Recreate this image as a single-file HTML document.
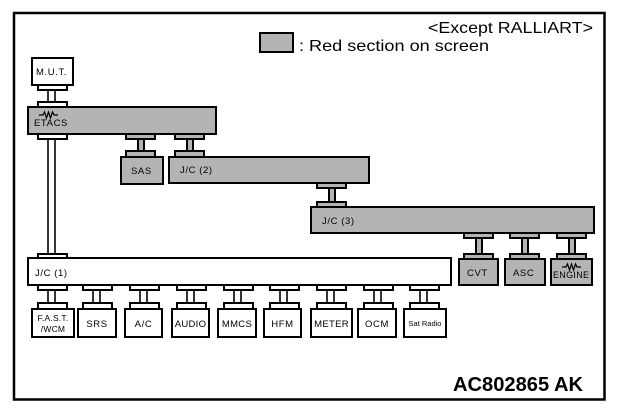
<!DOCTYPE html>
<html><head><meta charset="utf-8"><style>
html,body{margin:0;padding:0;background:#fff;}
svg{display:block;}
text{font-family:"Liberation Sans",sans-serif;fill:#000;}
</style></head><body>
<svg width="617" height="411" viewBox="0 0 617 411" xmlns="http://www.w3.org/2000/svg">
<rect x="14" y="13" width="590.5" height="386.5" fill="none" stroke="#000" stroke-width="2.5"/>
<text x="428" y="33" font-size="16" textLength="165" lengthAdjust="spacingAndGlyphs">&lt;Except RALLIART&gt;</text>
<rect x="260" y="33" width="33" height="19" fill="#b4b4b4" stroke="#000" stroke-width="2"/>
<text x="299" y="51" font-size="16" textLength="190" lengthAdjust="spacingAndGlyphs">: Red section on screen</text>
<text x="453" y="391" font-size="20" font-weight="bold" textLength="130" lengthAdjust="spacingAndGlyphs">AC802865 AK</text>

<g stroke="#000" stroke-width="2">
<rect x="32" y="58" width="41" height="27" fill="#fff"/>
<rect x="38" y="85" width="29" height="5" fill="#fff"/>
<line x1="48" y1="90" x2="48" y2="102" stroke-width="1.6"/>
<line x1="55" y1="90" x2="55" y2="102" stroke-width="1.6"/>
<rect x="38" y="102" width="29" height="5" fill="#fff"/>
<rect x="28" y="107" width="188" height="27" fill="#b4b4b4"/>
<rect x="38" y="134" width="29" height="5" fill="#fff"/>
<line x1="48" y1="139" x2="48" y2="254" stroke-width="1.6"/>
<line x1="55" y1="139" x2="55" y2="254" stroke-width="1.6"/>
<rect x="38" y="254" width="29" height="4" fill="#fff"/>
<rect x="126" y="134" width="29" height="5" fill="#b4b4b4"/>
<rect x="138" y="139" width="6" height="12" fill="#b4b4b4"/>
<rect x="126" y="151" width="29" height="6" fill="#b4b4b4"/>
<rect x="121" y="157" width="42" height="27" fill="#b4b4b4"/>
<rect x="175" y="134" width="29" height="5" fill="#b4b4b4"/>
<rect x="187" y="139" width="6" height="12" fill="#b4b4b4"/>
<rect x="175" y="151" width="29" height="6" fill="#b4b4b4"/>
<rect x="169" y="157" width="200" height="26" fill="#b4b4b4"/>
<rect x="317" y="183" width="29" height="5" fill="#b4b4b4"/>
<rect x="329" y="188" width="6" height="14" fill="#b4b4b4"/>
<rect x="317" y="202" width="29" height="5" fill="#b4b4b4"/>
<rect x="311" y="207" width="283" height="26" fill="#b4b4b4"/>
<rect x="28" y="258" width="423" height="27" fill="#fff"/>
</g>
<g stroke="#000" stroke-width="2" fill="#b4b4b4">
<rect x="464" y="233" width="29" height="5"/><rect x="476" y="238" width="6" height="16"/><rect x="464" y="254" width="29" height="5"/><rect x="459" y="259" width="39" height="26"/>
<rect x="510" y="233" width="29" height="5"/><rect x="522" y="238" width="6" height="16"/><rect x="510" y="254" width="29" height="5"/><rect x="505" y="259" width="40" height="26"/>
<rect x="557" y="233" width="29" height="5"/><rect x="569" y="238" width="6" height="16"/><rect x="557" y="254" width="29" height="5"/><rect x="551" y="259" width="41" height="26"/>
</g>
<g stroke="#000" stroke-width="2" fill="#fff">
<rect x="38" y="285" width="29" height="5"/><line x1="48" y1="290" x2="48" y2="303" stroke-width="1.6"/><line x1="55" y1="290" x2="55" y2="303" stroke-width="1.6"/><rect x="38" y="303" width="29" height="6"/><rect x="32" y="309" width="42" height="28"/>
<rect x="83" y="285" width="29" height="5"/><line x1="93" y1="290" x2="93" y2="303" stroke-width="1.6"/><line x1="100" y1="290" x2="100" y2="303" stroke-width="1.6"/><rect x="83" y="303" width="29" height="6"/><rect x="78" y="309" width="38" height="28"/>
<rect x="130" y="285" width="29" height="5"/><line x1="140" y1="290" x2="140" y2="303" stroke-width="1.6"/><line x1="147" y1="290" x2="147" y2="303" stroke-width="1.6"/><rect x="130" y="303" width="29" height="6"/><rect x="125" y="309" width="37" height="28"/>
<rect x="177" y="285" width="29" height="5"/><line x1="187" y1="290" x2="187" y2="303" stroke-width="1.6"/><line x1="194" y1="290" x2="194" y2="303" stroke-width="1.6"/><rect x="177" y="303" width="29" height="6"/><rect x="172" y="309" width="37" height="28"/>
<rect x="224" y="285" width="29" height="5"/><line x1="234" y1="290" x2="234" y2="303" stroke-width="1.6"/><line x1="241" y1="290" x2="241" y2="303" stroke-width="1.6"/><rect x="224" y="303" width="29" height="6"/><rect x="218" y="309" width="38" height="28"/>
<rect x="270" y="285" width="29" height="5"/><line x1="280" y1="290" x2="280" y2="303" stroke-width="1.6"/><line x1="287" y1="290" x2="287" y2="303" stroke-width="1.6"/><rect x="270" y="303" width="29" height="6"/><rect x="264" y="309" width="37" height="28"/>
<rect x="317" y="285" width="29" height="5"/><line x1="327" y1="290" x2="327" y2="303" stroke-width="1.6"/><line x1="334" y1="290" x2="334" y2="303" stroke-width="1.6"/><rect x="317" y="303" width="29" height="6"/><rect x="311" y="309" width="41" height="28"/>
<rect x="364" y="285" width="29" height="5"/><line x1="374" y1="290" x2="374" y2="303" stroke-width="1.6"/><line x1="381" y1="290" x2="381" y2="303" stroke-width="1.6"/><rect x="364" y="303" width="29" height="6"/><rect x="358" y="309" width="38" height="28"/>
<rect x="410" y="285" width="29" height="5"/><line x1="420" y1="290" x2="420" y2="303" stroke-width="1.6"/><line x1="427" y1="290" x2="427" y2="303" stroke-width="1.6"/><rect x="410" y="303" width="29" height="6"/><rect x="404" y="309" width="42" height="28"/>
</g>
<g fill="none" stroke="#000" stroke-width="1.2">
<polyline points="39,115 43,115 44.5,112 46.5,118 48.5,112 50.5,118 52.5,112 54,115 58,115"/>
<polyline points="562,267 566,267 567.5,264 569.5,270 571.5,264 573.5,270 575.5,264 577,267 581,267"/>
</g>
<g font-size="9.5" letter-spacing="0.6">
<text x="36" y="75">M.U.T.</text>
<text x="34" y="126">ETACS</text>
<text x="131" y="174">SAS</text>
<text x="180" y="173">J/C (2)</text>
<text x="322" y="224">J/C (3)</text>
<text x="35" y="276">J/C (1)</text>
<text x="467" y="276">CVT</text>
<text x="513" y="276">ASC</text>
<text x="553" y="278" font-size="9" letter-spacing="0.3">ENGINE</text>
<text x="53" y="321" font-size="8.5" text-anchor="middle" letter-spacing="0.2">F.A.S.T.</text>
<text x="53" y="332" font-size="8.5" text-anchor="middle" letter-spacing="0.2">/WCM</text>
<text x="97" y="327" text-anchor="middle">SRS</text>
<text x="143.5" y="327" text-anchor="middle">A/C</text>
<text x="190.5" y="327" text-anchor="middle" letter-spacing="0.3">AUDIO</text>
<text x="237" y="327" text-anchor="middle" letter-spacing="0.3">MMCS</text>
<text x="282.5" y="327" text-anchor="middle">HFM</text>
<text x="331.5" y="327" text-anchor="middle" letter-spacing="0.3">METER</text>
<text x="377" y="327" text-anchor="middle">OCM</text>
<text x="425" y="326" font-size="7.5" text-anchor="middle" letter-spacing="0">Sat Radio</text>
</g>
</svg>
</body></html>
